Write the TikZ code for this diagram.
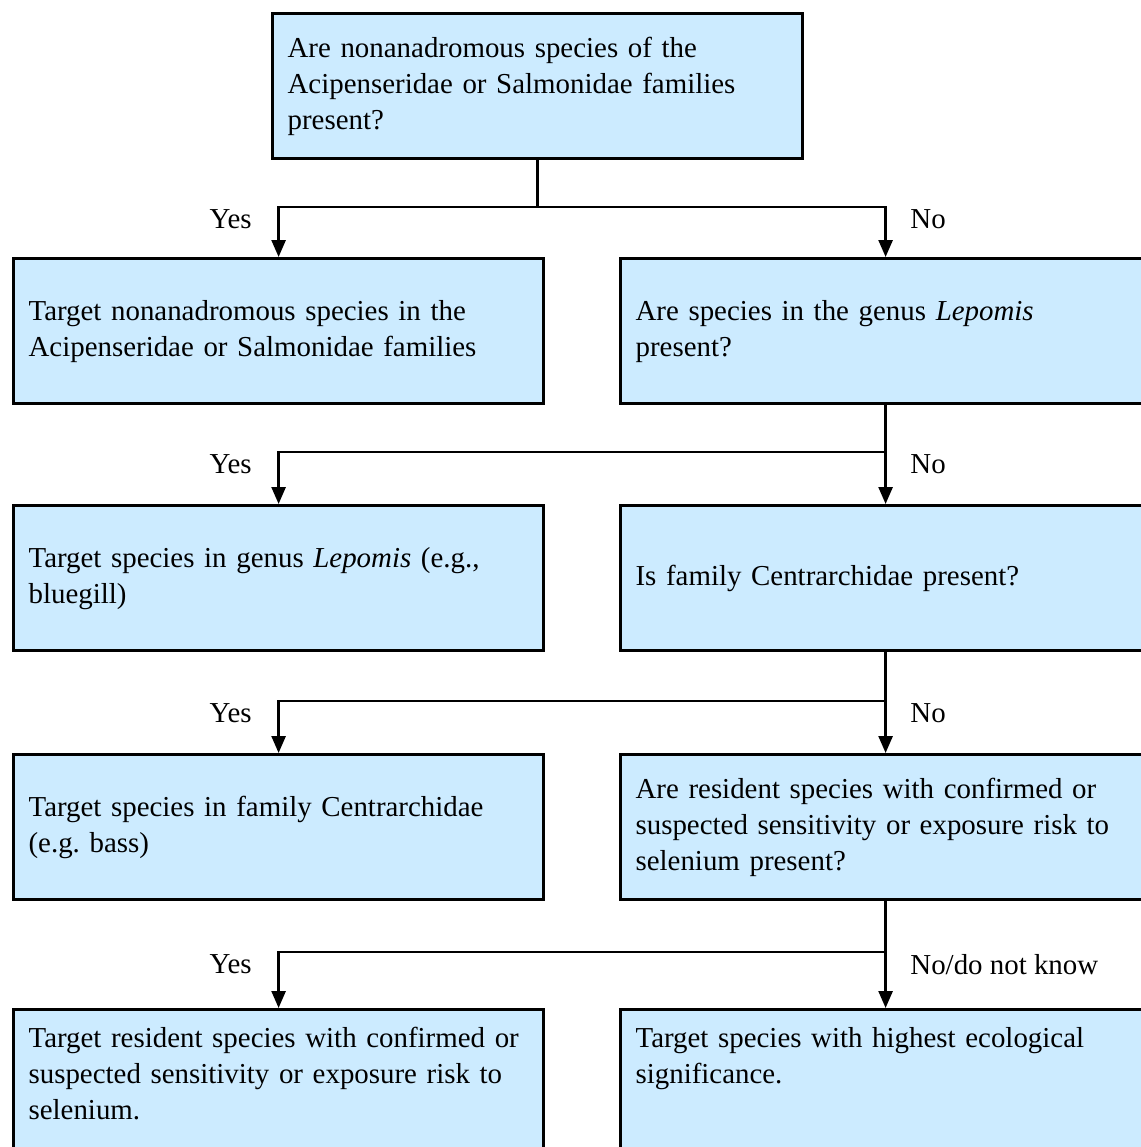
\documentclass[tikz,border=0pt]{standalone}
\usepackage{fontspec}
\setmainfont{Liberation Serif}
\usetikzlibrary{arrows.meta}
\definecolor{boxblue}{HTML}{CCEBFF}
\tikzset{
  fc_box/.style = {rectangle, draw=black, line width=1.6pt, fill=boxblue, anchor=north west,
    text width=250pt, inner xsep=7.5pt, inner ysep=9pt, minimum height=72.5pt, align=left,
    font=\fontsize{14.45}{18}\selectfont},
  fc_open/.style = {fc_box, minimum height=0pt, text depth=90pt},
  fc_line/.style = {line width=1.3pt},
  fc_arrow/.style = {fc_line, -{Triangle[length=8.5pt,width=7pt]}},
  fc_lab/.style = {inner sep=0pt, font=\fontsize{14.45}{18}\selectfont}
}

\begin{document}
\begin{tikzpicture}[x=0.5pt, y=-0.5pt]
\useasboundingbox (0,0) rectangle (1141,1147);
\clip (0,0) rectangle (1141,1147);

\node [fc_box] (q1) at (271,12) {Are nonanadromous species of the\\ Acipenseridae or Salmonidae families\\ present?};
\node [fc_box] (t1) at (12,257) {Target nonanadromous species in the\\ Acipenseridae or Salmonidae families};
\node [fc_box] (q2) at (619,257) {Are species in the genus \textit{Lepomis}\\ present?};
\node [fc_box] (t2) at (12,504) {Target species in genus \textit{Lepomis} (e.g.,\\ bluegill)};
\node [fc_box] (q3) at (619,504) {Is family Centrarchidae present?};
\node [fc_box] (t3) at (12,753) {Target species in family Centrarchidae\\ (e.g.\ bass)};
\node [fc_box] (q4) at (619,753) {Are resident species with confirmed or\\ suspected sensitivity or exposure risk to\\ selenium present?};
\node [fc_open] (t4) at (12,1008) {Target resident species with confirmed or\\ suspected sensitivity or exposure risk to\\ selenium.};
\node [fc_open] (t5) at (619,1008) {Target species with highest ecological\\ significance.};

% yes / no branches
\draw [fc_line] (q1.south) -- (q1.south |- 0,207) coordinate (j1);
\draw [fc_arrow] (j1) -| (t1.north);
\draw [fc_arrow] (j1) -| (q2.north);
\node [fc_lab, anchor=north east] (y1) at (252,209) {Yes};
\node [fc_lab, anchor=north west] (n1) at (910,209) {No};

\draw [fc_line] (q2.south) -- (q2.south |- 0,452) coordinate (j2);
\draw [fc_arrow] (j2) -| (t2.north);
\draw [fc_arrow] (j2) -- (q3.north);
\node [fc_lab, anchor=north east] (y2) at (252,454) {Yes};
\node [fc_lab, anchor=north west] (n2) at (910,454) {No};

\draw [fc_line] (q3.south) -- (q3.south |- 0,701) coordinate (j3);
\draw [fc_arrow] (j3) -| (t3.north);
\draw [fc_arrow] (j3) -- (q4.north);
\node [fc_lab, anchor=north east] (y3) at (252,703) {Yes};
\node [fc_lab, anchor=north west] (n3) at (910,703) {No};

\draw [fc_line] (q4.south) -- (q4.south |- 0,952) coordinate (j4);
\draw [fc_arrow] (j4) -| (t4.north);
\draw [fc_arrow] (j4) -- (t5.north);
\node [fc_lab, anchor=north east] (y4) at (252,954) {Yes};
\node [fc_lab, anchor=north west] (n4) at (910,954) {No/do not know};
\end{tikzpicture}
\end{document}
